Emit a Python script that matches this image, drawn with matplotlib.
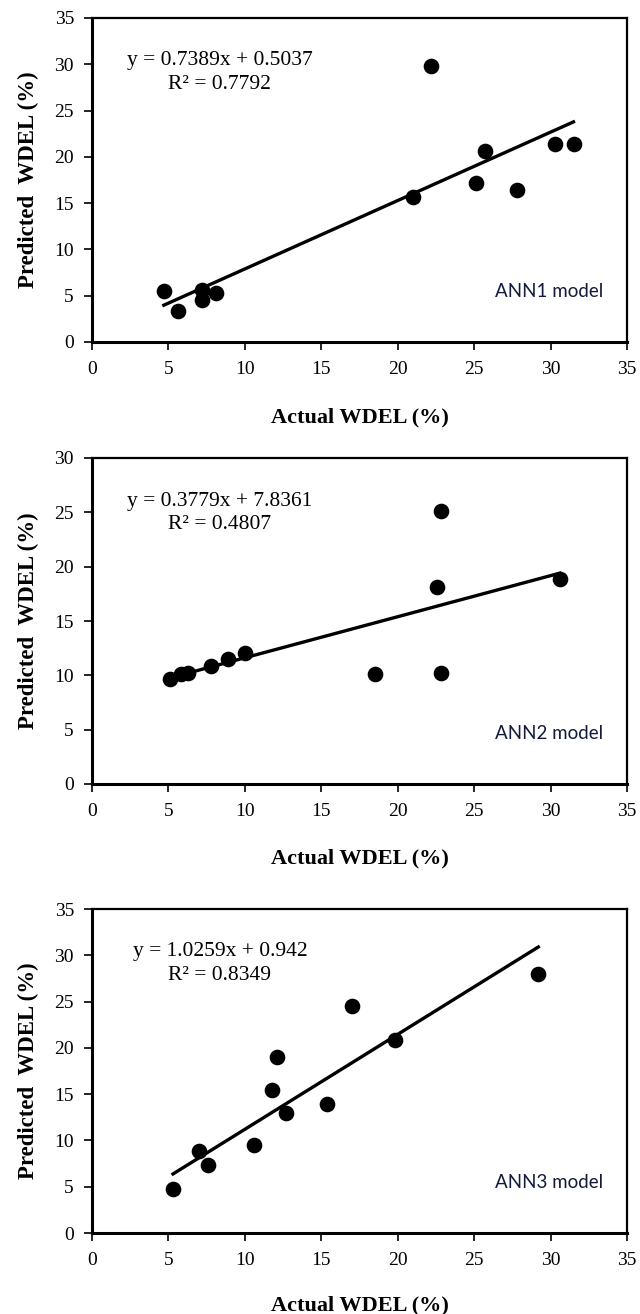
import matplotlib
matplotlib.use("Agg")
import matplotlib.pyplot as plt
import numpy as np

# --- data ---
actual_1 = [4.7, 5.6, 7.2, 7.2, 8.1, 21.0, 22.2, 25.1, 25.7, 27.8, 30.3, 31.5]
pred_1 = [5.5, 3.3, 5.6, 4.5, 5.3, 15.7, 29.8, 17.2, 20.6, 16.4, 21.4, 21.4]

actual_2 = [5.1, 5.8, 6.3, 7.8, 8.9, 10.0, 18.5, 22.6, 22.85, 22.85, 30.6]
pred_2 = [9.7, 10.1, 10.2, 10.9, 11.5, 12.1, 10.1, 18.1, 25.1, 10.2, 18.9]

actual_3 = [5.3, 7.0, 7.6, 10.6, 11.8, 12.1, 12.7, 15.4, 17.0, 19.8, 29.2]
pred_3 = [4.7, 8.9, 7.3, 9.5, 15.5, 19.0, 13.0, 13.9, 24.5, 20.9, 28.0]

slopes = [0.7389, 0.3779, 1.0259]
intercepts = [0.5037, 7.8361, 0.942]
eq_labels = ["y = 0.7389x + 0.5037\nR² = 0.7792",
             "y = 0.3779x + 7.8361\nR² = 0.4807",
             "y = 1.0259x + 0.942\nR² = 0.8349"]
model_names = ["ANN1 model", "ANN2 model", "ANN3 model"]
y_tops = [35, 30, 35]
x_ticks = [0, 5, 10, 15, 20, 25, 30, 35]

plt.rcParams['font.family'] = ['Liberation Serif', 'DejaVu Serif']

fig = plt.figure(figsize=(6.4, 13.14), dpi=100)
H = 1314.0
W = 640.0
# (top, bottom) of each plot box in pixels, and y of the x label
boxes = [(18, 342, 417), (458, 784, 858), (909, 1233, 1305)]
left_px, right_px = 92, 627

datasets = [(actual_1, pred_1), (actual_2, pred_2), (actual_3, pred_3)]

for i, (xs, ys) in enumerate(datasets):
    top, bot, xlab_y = boxes[i]
    ax = fig.add_axes([left_px / W, 1 - bot / H, (right_px - left_px) / W, (bot - top) / H])

    ax.scatter(xs, ys, s=105, color="black", zorder=3)

    # trend line over the span of the data
    xl = np.array([min(xs), max(xs)])
    ax.plot(xl, slopes[i] * xl + intercepts[i], color="black", lw=2.4, zorder=2)

    ax.set_xlim(0, 35)
    ax.set_ylim(0, y_tops[i])
    ax.set_xticks(x_ticks)
    ax.set_yticks(np.arange(0, y_tops[i] + 1, 5))
    ax.tick_params(direction="out", length=6, width=1.2, labelsize=14)
    ax.tick_params(axis="x", pad=8)
    ax.tick_params(axis="y", pad=7)

    for side in ["left", "bottom"]:
        ax.spines[side].set_linewidth(2.2)
    for side in ["top", "right"]:
        ax.spines[side].set_linewidth(1.6)

    ax.text(0.239, 0.832, eq_labels[i], transform=ax.transAxes, ha="center", va="center",
            fontsize=15.5, multialignment="center", linespacing=1.3)
    ax.text(0.855, 0.155, model_names[i], transform=ax.transAxes, ha="center", va="center",
            fontsize=13.5, color="#141a3a", family=["Lato", "DejaVu Sans"])

    fig.text(28 / W, 1 - (top + bot) / 2 / H, "Predicted  WDEL (%)", rotation=90,
             ha="center", va="center", fontsize=16.5, fontweight="bold")
    fig.text((left_px + right_px) / 2 / W, 1 - xlab_y / H, "Actual WDEL (%)",
             ha="center", va="center", fontsize=16, fontweight="bold")

fig.savefig("out.png", dpi=100)
